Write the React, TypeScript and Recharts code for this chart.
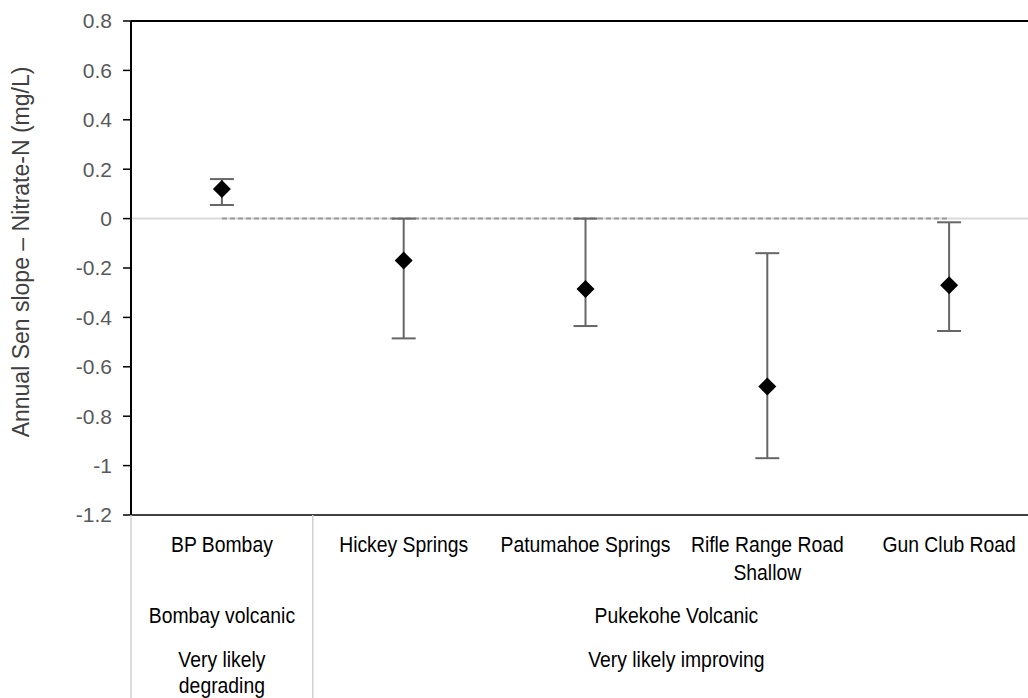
import React from 'react';
import { ComposedChart, Scatter, XAxis, YAxis, ErrorBar, ReferenceLine } from 'recharts';

const sites = ['BP Bombay', 'Hickey Springs', 'Patumahoe Springs', 'Rifle Range Road Shallow', 'Gun Club Road'];
const siteLines = [['BP Bombay'], ['Hickey Springs'], ['Patumahoe Springs'], ['Rifle Range Road', 'Shallow'], ['Gun Club Road']];
const slope = [0.12, -0.17, -0.285, -0.68, -0.27];
const lower = [0.055, -0.485, -0.435, -0.97, -0.455];
const upper = [0.16, 0, 0, -0.14, -0.015];

const yTicks = [0.8, 0.6, 0.4, 0.2, 0, -0.2, -0.4, -0.6, -0.8, -1, -1.2];

// rows of the table under the axis: label, first column, last column
const aquifers = [
  { label: ['Bombay volcanic'], from: 0, to: 0 },
  { label: ['Pukekohe Volcanic'], from: 1, to: 4 },
];
const trends = [
  { label: ['Very likely', 'degrading'], from: 0, to: 0 },
  { label: ['Very likely improving'], from: 1, to: 4 },
];

const data = sites.map((name, i) => ({
  name,
  value: slope[i],
  err: [slope[i] - lower[i], upper[i] - slope[i]],
}));

const W = 1060;
const H = 698;
const margin = { top: 21, right: 20, left: 0, bottom: 0 };
const Y_AXIS_W = 131;
const X_AXIS_H = 183;
const band = (W - margin.left - margin.right - Y_AXIS_W) / sites.length;

const FONT = '"Liberation Sans", Arial, sans-serif';

const Diamond = (props: any) => {
  const { cx, cy } = props;
  const r = 9;
  return <polygon points={`${cx},${cy - r} ${cx + r},${cy} ${cx},${cy + r} ${cx - r},${cy}`} fill="#000" />;
};

// table text is drawn a bit narrow and tall, as in the source figure
const Label = ({ x, y, children }: { x: number; y: number; children: React.ReactNode }) => (
  <text
    transform={`translate(${x},${y}) scale(0.88,1)`}
    textAnchor="middle"
    fill="#000"
    fontSize={22}
    fontFamily={FONT}
  >
    {children}
  </text>
);

const renderRow = (rows: typeof aquifers, index: number, x: number, y: number, dy: number[]) =>
  rows
    .filter((g) => g.from === index)
    .map((g, k) => {
      const cx = x + ((g.to - g.from) * band) / 2;
      return g.label.map((line, j) => (
        <Label key={`${k}-${j}`} x={cx} y={y + dy[j]}>
          {line}
        </Label>
      ));
    });

const SiteTick = (props: any) => {
  const { x, y, index } = props;
  const lines = siteLines[index] || [];
  return (
    <g>
      {index === 0 && (
        <>
          <line x1={x - band / 2} y1={y} x2={x - band / 2} y2={H} stroke="#d0d0d0" strokeWidth={1.5} />
          <line x1={x + band / 2} y1={y} x2={x + band / 2} y2={H} stroke="#d0d0d0" strokeWidth={1.5} />
        </>
      )}
      {lines.map((line, j) => (
        <Label key={j} x={x} y={y + 37 + j * 28}>
          {line}
        </Label>
      ))}
      {renderRow(aquifers, index, x, y, [108])}
      {renderRow(trends, index, x, y, [152, 178])}
    </g>
  );
};

const App: React.FC = () => {
  return (
    <div style={{ position: 'absolute', left: 0, top: 0, width: W, height: H }}>
      <style>{`body{margin:0;overflow:hidden}`}</style>
      <ComposedChart width={W} height={H} data={data} margin={margin}>
        <XAxis
          dataKey="name"
          type="category"
          scale="band"
          height={X_AXIS_H}
          axisLine={{ stroke: '#000', strokeWidth: 1.5 }}
          tickLine={false}
          tickSize={0}
          tickMargin={0}
          interval={0}
          tick={<SiteTick />}
        />
        <YAxis
          type="number"
          domain={[-1.2, 0.8]}
          ticks={yTicks}
          width={Y_AXIS_W}
          axisLine={{ stroke: '#000', strokeWidth: 2 }}
          tickLine={{ stroke: '#000', strokeWidth: 1.5 }}
          tickSize={8}
          tickMargin={11}
          tick={{ fill: '#595959', fontSize: 21, fontFamily: FONT }}
          label={{
            content: () => (
              <text
                x={21}
                y={252}
                transform="rotate(-90, 21, 252)"
                textAnchor="middle"
                dominantBaseline="central"
                fill="#404040"
                fontSize={23}
                fontFamily={FONT}
              >
                Annual Sen slope – Nitrate-N (mg/L)
              </text>
            ),
          }}
        />
        <ReferenceLine y={0.8} stroke="#000" strokeWidth={2} />
        <ReferenceLine y={0} stroke="#d9d9d9" strokeWidth={2} />
        <ReferenceLine
          segment={[
            { x: sites[0], y: 0 },
            { x: sites[sites.length - 1], y: 0 },
          ]}
          stroke="#999"
          strokeWidth={2}
          strokeDasharray="5 3"
        />
        <Scatter dataKey="value" shape={<Diamond />} isAnimationActive={false}>
          <ErrorBar dataKey="err" direction="y" width={12} stroke="#666" strokeWidth={2} />
        </Scatter>
      </ComposedChart>
    </div>
  );
};

export default App;
